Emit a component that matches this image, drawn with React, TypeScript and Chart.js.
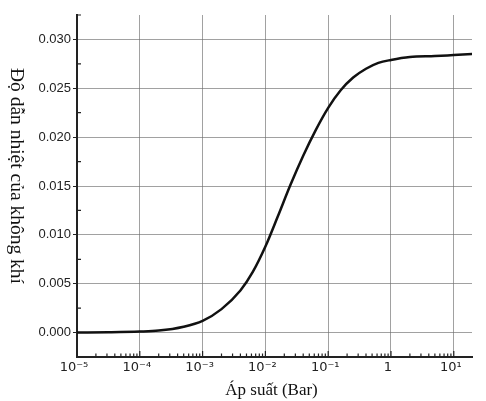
import React, { useEffect, useRef } from "react";
import { Chart, registerables } from "chart.js";

Chart.register(...registerables);

// Pressure (bar) and thermal conductivity of air
const pressure = [
  1e-5, 3.16e-5, 1e-4, 2e-4, 5e-4, 1e-3, 2e-3, 4e-3, 6.3e-3, 1e-2, 1.58e-2,
  2.5e-2, 4e-2, 6.3e-2, 0.1, 0.158, 0.25, 0.4, 0.63, 1, 2, 5, 10, 20,
];
const conductivity = [
  0.0, 0.00003, 0.0001, 0.0002, 0.0006, 0.0012, 0.0024, 0.0043, 0.0062, 0.0088,
  0.0119, 0.0151, 0.0181, 0.0207, 0.023, 0.0248, 0.0261, 0.027, 0.0276,
  0.0279, 0.0282, 0.0283, 0.0284, 0.0285,
];

const xDecades = [1e-5, 1e-4, 1e-3, 1e-2, 1e-1, 1, 10];
const xTickLabels = ["10⁻⁵", "10⁻⁴", "10⁻³", "10⁻²", "10⁻¹", "1", "10¹"];
const yMajorTicks = [0, 0.005, 0.01, 0.015, 0.02, 0.025, 0.03];
const yTickLabels = ["0.000", "0.005", "0.010", "0.015", "0.020", "0.025", "0.030"];
const yMinorStep = 0.0025;

const xMin = 1e-5;
const xMax = 19.5;
const yMin = -0.0025;
const yMax = 0.0325;

const xTitle = "Áp suất (Bar)";
const yTitle = "Độ dẫn nhiệt của không khí";

const GRID = "rgba(110,110,110,0.65)";
const AXIS = "#222";

const isYMajor = (v: number) =>
  yMajorTicks.some((m) => Math.abs(m - v) < 1e-9);
const yLabelFor = (v: number) => {
  const i = yMajorTicks.findIndex((m) => Math.abs(m - v) < 1e-9);
  return i >= 0 ? yTickLabels[i] : "";
};
const xLabelFor = (v: number) => {
  const i = xDecades.findIndex((d) => Math.abs(d - v) / d < 1e-6);
  return i >= 0 ? xTickLabels[i] : "";
};

const decorPlugin = {
  id: "decor",
  afterDraw(chart: any) {
    const { ctx, chartArea, scales } = chart;
    const xs = scales.x;
    const ys = scales.y;
    ctx.save();
    ctx.strokeStyle = AXIS;
    ctx.lineWidth = 1.2;
    ctx.beginPath();
    xs.ticks.forEach((t: any) => {
      const px = xs.getPixelForValue(t.value);
      if (px > chartArea.right + 0.5) return;
      const len = t.major ? 6 : 3.5;
      ctx.moveTo(px, chartArea.bottom);
      ctx.lineTo(px, chartArea.bottom - len);
    });
    ys.ticks.forEach((t: any) => {
      if (isYMajor(t.value)) return;
      const py = ys.getPixelForValue(t.value);
      ctx.moveTo(chartArea.left, py);
      ctx.lineTo(chartArea.left + 4, py);
    });
    ctx.stroke();

    ctx.fillStyle = "#111";
    ctx.textAlign = "center";
    ctx.textBaseline = "middle";
    ctx.font = '19.5px "Liberation Serif", "DejaVu Serif", serif';
    ctx.save();
    ctx.translate(16, (chartArea.top + chartArea.bottom) / 2 - 10);
    ctx.rotate(Math.PI / 2);
    ctx.fillText(yTitle, 0, 0);
    ctx.restore();

    ctx.font = '17px "Liberation Serif", "DejaVu Serif", serif';
    ctx.fillText(xTitle, (chartArea.left + chartArea.right) / 2 - 3, chart.height - 10);
    ctx.restore();
  },
};

export default function App() {
  const ref = useRef<HTMLCanvasElement | null>(null);

  useEffect(() => {
    if (!ref.current) return;
    const data = pressure.map((p, i) => ({ x: p, y: conductivity[i] }));
    const chart = new Chart(ref.current, {
      type: "line",
      data: {
        datasets: [
          {
            data,
            borderColor: "#111",
            borderWidth: 2.5,
            pointRadius: 0,
            cubicInterpolationMode: "monotone",
            fill: false,
          },
        ],
      },
      options: {
        animation: false,
        responsive: false,
        layout: { padding: { left: 0, right: 14, top: 15, bottom: 0 } },
        plugins: {
          legend: { display: false },
          tooltip: { enabled: false },
          title: { display: false },
        },
        scales: {
          x: {
            type: "logarithmic",
            min: xMin,
            max: xMax,
            afterBuildTicks: (scale: any) => {
              const ticks: any[] = [];
              for (let e = -5; e <= 1; e++) {
                for (let m = 1; m <= 9; m++) {
                  const v = m * Math.pow(10, e);
                  if (v <= xMax * 1.0001) ticks.push({ value: v, major: m === 1 });
                }
              }
              scale.ticks = ticks;
            },
            afterFit: (scale: any) => {
              scale.height = 44;
            },
            grid: {
              color: (c: any) =>
                c.tick && c.tick.major ? GRID : "rgba(0,0,0,0)",
              lineWidth: 1,
              drawTicks: false,
            },
            border: { display: true, color: AXIS, width: 2 },
            ticks: {
              autoSkip: false,
              maxRotation: 0,
              padding: 3,
              labelOffset: -3,
              color: "#222",
              font: { family: '"DejaVu Sans", "Liberation Sans", Arial, sans-serif', size: 13 },
              callback: (v: any) => xLabelFor(Number(v)),
            },
          },
          y: {
            type: "linear",
            min: yMin,
            max: yMax,
            afterBuildTicks: (scale: any) => {
              const ticks: any[] = [];
              const n = Math.round((yMax - yMin) / yMinorStep);
              for (let i = 0; i <= n; i++) {
                const v = Math.round((yMin + i * yMinorStep) * 1e6) / 1e6;
                ticks.push({ value: v });
              }
              scale.ticks = ticks;
            },
            afterFit: (scale: any) => {
              scale.width = 77;
            },
            grid: {
              color: (c: any) =>
                c.tick && isYMajor(c.tick.value) ? GRID : "rgba(0,0,0,0)",
              tickColor: (c: any) =>
                c.tick && isYMajor(c.tick.value) ? AXIS : "rgba(0,0,0,0)",
              lineWidth: 1,
              tickLength: 4,
              drawTicks: true,
            },
            border: { display: true, color: AXIS, width: 2 },
            ticks: {
              autoSkip: false,
              padding: 2,
              color: "#222",
              font: { family: '"Liberation Sans", Arial, sans-serif', size: 13 },
              callback: (v: any) => yLabelFor(Number(v)),
            },
          },
        },
      },
      plugins: [decorPlugin],
    } as any);
    return () => chart.destroy();
  }, []);

  return (
    <div style={{ position: "fixed", left: 0, top: 0, width: 486, height: 401, background: "#fff" }}>
      <canvas ref={ref} width={486} height={401} style={{ display: "block" }} />
    </div>
  );
}
